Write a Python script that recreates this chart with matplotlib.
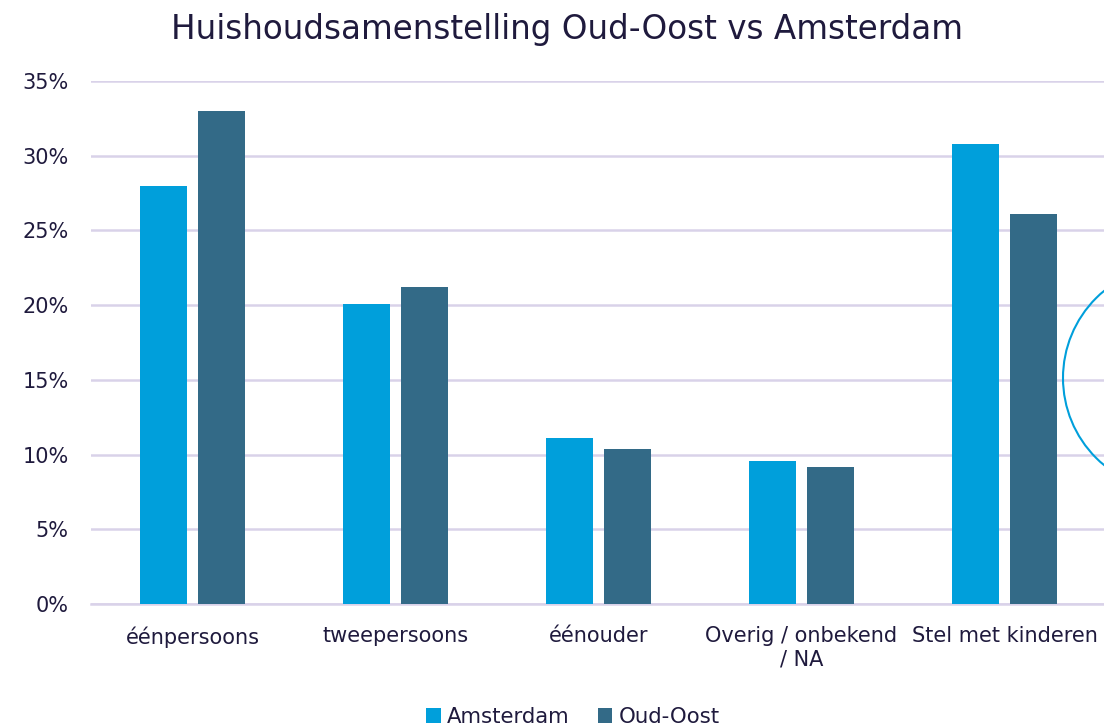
import matplotlib
matplotlib.use("Agg")
import matplotlib.pyplot as plt
from matplotlib.patches import Ellipse
from matplotlib.ticker import FuncFormatter
import numpy as np

categories = ["éénpersoons", "tweepersoons", "éénouder", "Overig / onbekend\n/ NA", "Stel met kinderen"]
amsterdam = [0.280, 0.201, 0.111, 0.096, 0.308]
oud_oost = [0.330, 0.212, 0.104, 0.092, 0.261]
series_names = ["Amsterdam", "Oud-Oost"]

c_ams = "#009FDB"
c_oo = "#336A87"
txt = "#1F1A3D"
grid = "#D9D2E9"

W, H = 1104, 728
fig = plt.figure(figsize=(W/100, H/100), dpi=100)
ax = fig.add_axes([91/W, 1-604/H, 1015/W, (604-81)/H])

x = np.arange(len(categories))
bw = 0.227
off = 0.143
ax.bar(x - off, amsterdam, bw, color=c_ams, label=series_names[0], zorder=3)
ax.bar(x + off, oud_oost, bw, color=c_oo, label=series_names[1], zorder=3)

ax.set_xlim(-0.5, len(categories) - 0.5)
ax.set_ylim(0, 0.35)
ax.set_yticks(np.arange(0, 0.351, 0.05))
ax.yaxis.set_major_formatter(FuncFormatter(lambda v, p: f"{v*100:.0f}%"))
ax.set_xticks(x)
ax.set_xticklabels(categories)
ax.tick_params(axis="both", length=0, labelsize=15, labelcolor=txt)
ax.tick_params(axis="y", pad=16)
ax.tick_params(axis="x", pad=16)
ax.grid(axis="y", color=grid, linewidth=1.8, zorder=0)
for s in ["top", "right", "left"]:
    ax.spines[s].set_visible(False)
ax.spines["bottom"].set_color(grid)
ax.spines["bottom"].set_linewidth(1.8)

fig.text(567/W, 1-30/H, "Huishoudsamenstelling Oud-Oost vs Amsterdam", ha="center", va="center",
         fontsize=23.5, color=txt)

fig.legend(loc="center", bbox_to_anchor=(573/W, 1-717/H), ncol=2, frameon=False, fontsize=15.3,
           handlelength=0.7, handleheight=0.7, handletextpad=0.3, columnspacing=1.3,
           labelcolor=txt)

circ = Ellipse((1176/W, 1-378/H), 226/W, 226/H, transform=fig.transFigure, fill=False,
               edgecolor=c_ams, linewidth=1.5, clip_on=False)
fig.patches.append(circ)

fig.savefig("out.png", dpi=100)
